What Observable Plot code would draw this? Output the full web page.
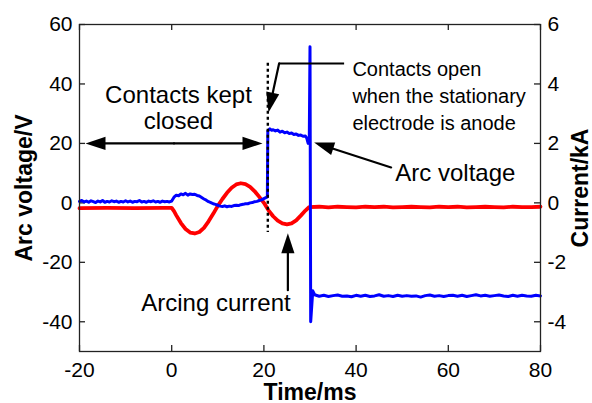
<!DOCTYPE html>
<html><head><meta charset="utf-8">
<script src="https://cdn.jsdelivr.net/npm/d3@7"></script>
<script src="https://cdn.jsdelivr.net/npm/@observablehq/plot@0.6"></script>
<style>
body{margin:0;background:#fff;}
#chart svg{display:block;}
</style>
</head><body><div id="chart"></div>
<script>
// ---- data ----
const voltageTime = [-20,-19.5,-19,-18.5,-18,-17.5,-17,-16.5,-16,-15.5,-15,-14.5,-14,-13.5,-13,-12.5,-12,-11.5,-11,-10.5,
  -10,-9.5,-9,-8.5,-8,-7.5,-7,-6.5,-6,-5.5,-5,-4.5,-4,-3.5,-3,-2.5,-2,-1.5,-1,-0.5,
  0,0.5,1,1.5,2,2.5,3,3.5,4,4.5,5,5.5,6,6.5,7,7.5,8,8.5,9,9.5,10,10.5,11,11.5,12,12.5,13,13.5,14,14.5,15,15.5,16,16.5,17,17.5,18,18.5,19,19.5,20,20.75,
  20.85,21.3,21.7,22,22.5,23,23.5,24,24.5,25,25.5,26,26.5,27,27.5,28,28.5,29,29.3,29.6,29.85,30.0,30.15,30.6,
  31,32,33,34,35,36,37,38,39,40,41,42,43,44,45,46,47,48,49,50,51,52,53,54,55,56,57,58,59,60,
  61,62,63,64,65,66,67,68,69,70,71,72,73,74,75,76,77,78,79,80];
const voltage = [0.5,0.8,0.3,0.6,0.2,0.7,0.4,0.1,0.6,0.3,0.8,0.2,0.5,0.3,0.7,0.4,0.6,0.2,0.5,0.3,
  0.7,0.3,0.6,0.2,0.5,0.4,0.8,0.3,0.5,0.2,0.6,0.4,0.7,0.3,0.5,0.2,0.6,0.4,0.5,0.3,
  0.6,1.9,2.6,2.4,3.0,2.7,3.2,2.6,3.0,2.8,2.9,2.5,2.3,1.8,1.3,0.9,0.4,0.1,-0.3,-0.5,-0.8,-1.1,-1.2,-1.0,-1.3,-1.1,-1.2,-0.9,-0.8,-0.9,-0.6,-0.5,-0.3,-0.3,0.0,0.1,0.4,0.5,0.8,1.0,1.4,2.0,
  24.2,24.9,24.4,24.6,24.2,24.5,23.8,24.1,23.6,23.8,23.3,23.5,23.0,23.2,22.7,22.8,22.4,22.5,21.8,20.0,22.2,52.5,-40.0,-29.6,-30.9,
  -31.4,-31.1,-31.5,-31.2,-31.0,-31.4,-31.3,-31.6,-31.1,-31.4,-31.1,-31.5,-31.3,-30.9,-31.4,-31.2,-31.5,-31.1,-31.4,-31.2,
  -31.4,-31.3,-31.7,-31.2,-31.0,-31.4,-31.2,-31.5,-31.2,-31.1,-31.4,-31.1,-31.5,-31.2,-30.9,-31.3,-31.1,-31.4,-31.2,-31.0,
  -31.3,-31.5,-31.1,-31.4,-31.1,-31.3,-31.4,-31.1,-31.3,-31.2];

const currentTime = [-20,-14,-8,-2,0,0.5,1,2,3,4,5,6,7,8,9,10,11,12,13,14,15,16,17,18,19,20,
  21,22,23,24,25,26,27,28,29,29.8,32,34,36,38,40,42,44,46,48,50,52,54,56,58,60,62,64,66,68,70,72,74,76,78,80];
const currentKA = [-0.18,-0.17,-0.18,-0.17,-0.17,-0.28,-0.42,-0.68,-0.88,-1.0,-1.03,-0.98,-0.84,-0.62,-0.37,-0.1,0.13,0.34,0.51,0.62,0.66,0.63,0.54,0.39,0.2,0.0,
  -0.25,-0.45,-0.6,-0.69,-0.72,-0.69,-0.59,-0.43,-0.26,-0.14,-0.13,-0.15,-0.13,-0.14,-0.15,-0.13,-0.14,-0.13,-0.15,-0.14,-0.13,-0.14,-0.15,-0.13,-0.14,-0.13,-0.15,-0.14,-0.13,-0.14,-0.15,-0.13,-0.14,-0.14,-0.13];

const xTicks = [-20, 0, 20, 40, 60, 80];
const xTickLabels = ["-20", "0", "20", "40", "60", "80"];
const voltageTicks = [-40, -20, 0, 20, 40, 60];
const voltageTickLabels = ["-40", "-20", "0", "20", "40", "60"];
const currentTickLabels = ["-4", "-2", "0", "2", "4", "6"];
const kAtoV = 10; // right axis: 1 kA per 10 V gridline

// annotations
const textNotes = [
  {x: 1.47, y: 25.0, text: "Contacts kept\nclosed", size: 24, lh: 1.08, anchor: "middle"},
  {x: 39.2, y: 24.4, text: "Contacts open\nwhen the stationary\nelectrode is anode", size: 20, lh: 1.37, anchor: "start"},
  {x: 48.5, y: 7.5, text: "Arc voltage", size: 24, lh: 1, anchor: "start"},
  {x: 9.6, y: -36.5, text: "Arcing current", size: 24, lh: 1, anchor: "middle"}
];
const arrows = [
  {x1: 0.5, y1: 20, x2: -18.7, y2: 20},
  {x1: 0.5, y1: 20, x2: 19.7, y2: 20},
  {x1: 47.6, y1: 11.9, x2: 30.9, y2: 20.3},
  {x1: 25.2, y1: -29.4, x2: 25.2, y2: -10.2},
  {x1: 23.3, y1: 46.9, x2: 21.0, y2: 30.4}
];
const leader = [{x1: 23.3, y1: 46.9, x2: 37.4, y2: 46.9}];
const openingLine = [{x: 20.85, y1: 47, y2: -10}];

// ---- layout ----
const W = 592, H = 403;
const mL = 79, mR = 52, mT = 24, mB = 52;
const xDomain = [-20, 80], yDomain = [-50, 60];

const xs = Plot.scale({x: {domain: xDomain, range: [mL, W - mR]}});
const ys = Plot.scale({y: {domain: yDomain, range: [H - mB, mT]}});
const heads = arrows.map(a => ({
  x: a.x2, y: a.y2,
  angle: Math.atan2(ys.apply(a.y2) - ys.apply(a.y1), xs.apply(a.x2) - xs.apply(a.x1)) * 180 / Math.PI
}));

const arrowHead = {
  draw(context, size) {
    const r = Math.sqrt(size / Math.PI);
    context.moveTo(0, 0);
    context.lineTo(-2 * r, -0.66 * r);
    context.lineTo(-2 * r, 0.66 * r);
    context.closePath();
  }
};

const voltageRows = voltageTime.map((t, i) => ({t, v: voltage[i]}));
const currentRows = currentTime.map((t, i) => ({t, i: currentKA[i]}));

const tickLen = 6;
const xTickLen = tickLen / ((W - mL - mR) / (xDomain[1] - xDomain[0]));
const yTickLen = tickLen / ((H - mT - mB) / (yDomain[1] - yDomain[0]));

const plot = Plot.plot({
  width: W, height: H,
  marginLeft: mL, marginRight: mR, marginTop: mT, marginBottom: mB,
  style: {fontFamily: "'Liberation Sans', Arial, sans-serif", fontSize: "21px", color: "#000", background: "#fff"},
  x: {domain: xDomain, label: null},
  y: {domain: yDomain, label: null},
  marks: [
    Plot.axisX({ticks: xTicks, tickSize: 0, tickPadding: 11, label: null, fontSize: 21,
      tickFormat: d => xTickLabels[xTicks.indexOf(d)]}),
    Plot.axisY({ticks: voltageTicks, tickSize: 0, tickPadding: 7, label: null, fontSize: 21,
      tickFormat: d => voltageTickLabels[voltageTicks.indexOf(d)]}),
    Plot.axisY({anchor: "right", ticks: voltageTicks, tickSize: 0, tickPadding: 7, label: null, fontSize: 21,
      tickFormat: d => currentTickLabels[voltageTicks.indexOf(d)]}),
    // inward ticks
    Plot.ruleX(xTicks, {x: d => d, y1: yDomain[0], y2: yDomain[0] + yTickLen, stroke: "#222", strokeWidth: 1.3}),
    Plot.ruleX(xTicks, {x: d => d, y1: yDomain[1], y2: yDomain[1] - yTickLen, stroke: "#222", strokeWidth: 1.3}),
    Plot.ruleY(voltageTicks, {y: d => d, x1: xDomain[0], x2: xDomain[0] + xTickLen, stroke: "#222", strokeWidth: 1.3}),
    Plot.ruleY(voltageTicks, {y: d => d, x1: xDomain[1], x2: xDomain[1] - xTickLen, stroke: "#222", strokeWidth: 1.3}),
    // series
    Plot.line(currentRows, {x: "t", y: d => d.i * kAtoV, stroke: "#ff0000", strokeWidth: 3.8, strokeLinejoin: "round"}),
    Plot.line(voltageRows, {x: "t", y: "v", stroke: "#0000ff", strokeWidth: 3, strokeLinejoin: "round"}),
    // contact opening dotted line
    Plot.ruleX(openingLine, {x: "x", y1: "y1", y2: "y2", stroke: "#000", strokeWidth: 2.4, strokeDasharray: "3,3"}),
    // arrows
    Plot.link(leader, {x1: "x1", y1: "y1", x2: "x2", y2: "y2", stroke: "#000", strokeWidth: 2}),
    Plot.arrow(arrows, {x1: "x1", y1: "y1", x2: "x2", y2: "y2", headLength: 0, insetEnd: 12, stroke: "#000", strokeWidth: 2.2}),
    Plot.dot(heads, {x: "x", y: "y", r: 10, symbol: arrowHead, rotate: "angle", fill: "#000", stroke: "none"}),
    // annotation texts
    ...textNotes.map(n => Plot.text([n], {x: "x", y: "y", text: "text", fontSize: n.size, lineHeight: n.lh,
      textAnchor: n.anchor, lineAnchor: "bottom", fill: "#000"})),
    // axis titles
    Plot.text(["Arc voltage/V"], {frameAnchor: "left", dx: -55, rotate: -90, text: d => d, fontSize: 23, fontWeight: "bold",
      textAnchor: "middle", lineAnchor: "middle", fill: "#000"}),
    Plot.text(["Current/kA"], {frameAnchor: "right", dx: 40, rotate: -90, text: d => d, fontSize: 23, fontWeight: "bold",
      textAnchor: "middle", lineAnchor: "middle", fill: "#000"}),
    Plot.text(["Time/ms"], {frameAnchor: "bottom", dy: 48, text: d => d, fontSize: 23, fontWeight: "bold",
      textAnchor: "middle", lineAnchor: "bottom", fill: "#000"}),
    Plot.frame({stroke: "#222", strokeWidth: 1.3})
  ]
});
document.getElementById("chart").appendChild(plot);
</script>
</body></html>
